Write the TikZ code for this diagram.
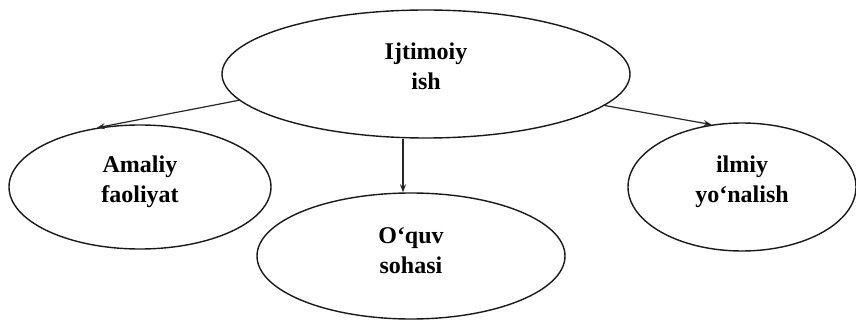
\documentclass[tikz,border=0pt]{standalone}
\usepackage{fontspec}
\setmainfont{Liberation Serif}
\usetikzlibrary{arrows.meta,shapes.geometric}
\begin{document}
\begin{tikzpicture}[x=1pt,y=1pt,
  ell/.style={draw=black!90, line width=1.4pt, ellipse, inner sep=0pt},
  lbl/.style={align=center, font=\fontsize{24}{30}\selectfont\bfseries, inner sep=0pt},
  arr/.style={draw=black!85, line width=1.2pt, -{Stealth[length=8pt,width=6pt]}}]
\useasboundingbox (0,0) rectangle (856,-320);
\node[ell, minimum width=408pt, minimum height=128pt] (top) at (426,-74) {};
\node[ell, minimum width=262pt, minimum height=124pt] (left) at (140,-187) {};
\node[ell, minimum width=228pt, minimum height=128pt] (right) at (742,-187) {};
\node[ell, minimum width=308pt, minimum height=126pt] (bot) at (411,-256) {};
\node[lbl] (ttop) at ([yshift=8pt]top.center) {Ijtimoiy\\ish};
\node[lbl] (tleft) at ([yshift=5pt]left.center) {Amaliy\\faoliyat};
\node[lbl] (tright) at ([yshift=5pt]right.center) {ilmiy\\yo‘nalish};
\node[lbl] (tbot) at ([yshift=5pt]bot.center) {O‘quv\\sohasi};
\draw[arr] (top.188) -- (left.126);
\draw[arr] (top.350) -- (right.116);
\draw[arr] ([xshift=-23pt]top.south) -- ([xshift=-8pt]bot.north);
\end{tikzpicture}
\end{document}
